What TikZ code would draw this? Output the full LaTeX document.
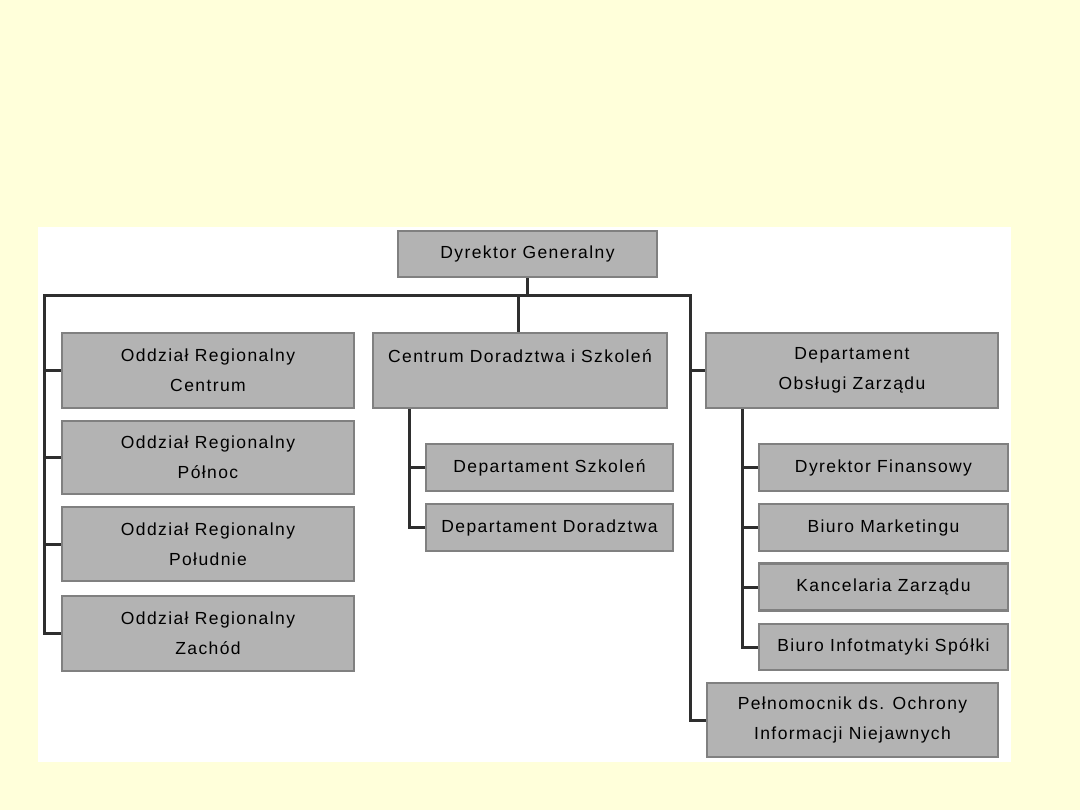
\documentclass[tikz,border=0pt]{standalone}
\usepackage{fontspec}
\setmainfont{Liberation Sans}[LetterSpace=8]
\definecolor{bgyellow}{HTML}{FFFFDA}
\definecolor{boxfill}{HTML}{B3B3B3}
\definecolor{boxline}{HTML}{808080}
\definecolor{connline}{HTML}{2E2E2E}
\begin{document}
\begin{tikzpicture}[x=1pt,y=-1pt,
  box/.style={draw=boxline, line width=2.6pt, fill=boxfill, inner sep=0pt,
    align=center, font=\fontsize{17.5}{30}\selectfont, text=black},
  conn/.style={draw=connline, line width=3pt}]
\useasboundingbox (0,0) rectangle (1080,810);
\fill[bgyellow] (0,0) rectangle (1080,810);
\fill[white] (38,227) rectangle (1011,762);
% top
\node[box, minimum width=259, minimum height=46] (dg) at (527.5,254) {Dyrektor Generalny};
% left column
\node[box, minimum width=292, minimum height=75] (orc) at (208,370.5) {Oddział Regionalny\\Centrum};
\node[box, minimum width=292, minimum height=73] (orp) at (208,457.5) {Oddział Regionalny\\Północ};
\node[box, minimum width=292, minimum height=74] (ors) at (208,544) {Oddział Regionalny\\Południe};
\node[box, minimum width=292, minimum height=75] (orz) at (208,633.5) {Oddział Regionalny\\Zachód};
% middle column
\node[box, minimum width=294, minimum height=75] (cds) at (520,370.5) {};
\node[font=\fontsize{17.5}{30}\selectfont, inner sep=0pt] (cdst) at (520,356) {Centrum Doradztwa i Szkoleń};
\node[box, minimum width=247, minimum height=47] (dsz) at (549.5,467.5) {Departament Szkoleń};
\node[box, minimum width=247, minimum height=47] (ddo) at (549.5,527.5) {Departament Doradztwa};
% right column
\node[box, minimum width=292, minimum height=75] (doz) at (852,370.5) {Departament\\Obsługi Zarządu};
\node[box, minimum width=249, minimum height=47] (dfi) at (883.5,467.5) {Dyrektor Finansowy};
\node[box, minimum width=249, minimum height=47] (bma) at (883.5,527.5) {Biuro Marketingu};
\node[box, minimum width=249, minimum height=47] (kza) at (883.5,587) {Kancelaria Zarządu};
\node[box, minimum width=249, minimum height=46] (bis) at (883.5,647) {Biuro Infotmatyki Spółki};
\node[box, minimum width=291, minimum height=74] (pel) at (852.5,720) {Pełnomocnik ds. Ochrony\\Informacji Niejawnych};
% connectors
\coordinate (busL) at (44,296);
\coordinate (busR) at (690,296);
\coordinate (cdsB) at ([xshift=-111]cds.south);
\coordinate (dozB) at ([xshift=-110]doz.south);
\draw[conn] (dg.south) -- (dg.south |- busL);
\draw[conn, line cap=rect] (busL) -- (busR);
\draw[conn] ([xshift=-2]cds.north) -- ([xshift=-2]cds.north |- busL);
\draw[conn] (busL) |- (orz.west);
\draw[conn] (busL |- orc.west) -- (orc.west);
\draw[conn] (busL |- orp.west) -- (orp.west);
\draw[conn] (busL |- ors.west) -- (ors.west);
\draw[conn] (busR) |- (pel.west);
\draw[conn] (busR |- doz.west) -- (doz.west);
\draw[conn] (cdsB) |- (ddo.west);
\draw[conn] (cdsB |- dsz.west) -- (dsz.west);
\draw[conn] (dozB) |- (bis.west);
\draw[conn] (dozB |- dfi.west) -- (dfi.west);
\draw[conn] (dozB |- bma.west) -- (bma.west);
\draw[conn] (dozB |- kza.west) -- (kza.west);
\end{tikzpicture}
\end{document}
